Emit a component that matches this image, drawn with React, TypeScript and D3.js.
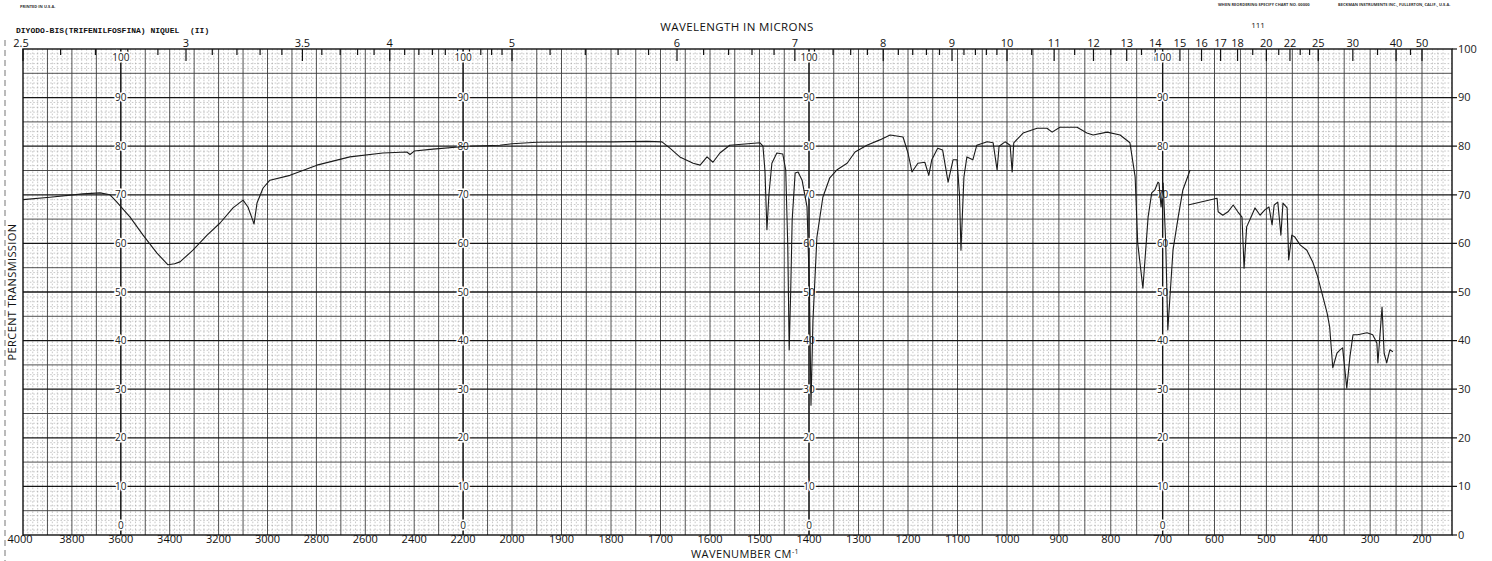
import React from "react";
import * as d3 from "d3";

const W = 1492;
const H = 561;

// pen trace: wavenumber (cm-1) and percent transmission
const mainCm = [4000, 3890, 3755, 3685, 3644, 3616, 3562, 3509, 3452, 3407, 3380, 3358, 3305, 3247, 3194, 3141, 3100, 3080, 3062, 3055, 3043, 3018, 2990, 2908, 2798, 2663, 2528, 2430, 2417, 2400, 2323, 2184, 2050, 2000, 1950, 1863, 1796, 1727, 1697, 1681, 1661, 1634, 1620, 1606, 1594, 1580, 1560, 1499, 1493, 1489, 1485, 1481, 1475, 1465, 1453, 1447, 1443, 1440, 1437, 1434, 1428, 1422, 1414, 1404, 1399, 1396, 1392, 1384, 1372, 1358, 1344, 1323, 1307, 1283, 1257, 1236, 1210, 1200, 1192, 1180, 1166, 1158, 1152, 1140, 1130, 1119, 1109, 1101, 1096, 1093, 1087, 1081, 1069, 1061, 1040, 1028, 1020, 1016, 1004, 994, 990, 987, 969, 942, 923, 913, 898, 865, 846, 834, 807, 782, 763, 753, 748, 738, 728, 721, 715, 709, 707, 703, 699, 694, 690, 680, 670, 661, 647];
const mainT = [69, 69.5, 70.2, 70.4, 70, 68.5, 65.4, 61.7, 58, 55.6, 55.8, 56.2, 58.6, 61.7, 64.2, 67.3, 68.9, 67.5, 65, 64, 68.3, 71.4, 73, 74, 76.1, 77.8, 78.6, 78.8, 78.3, 79, 79.4, 80, 80.2, 80.5, 80.8, 80.9, 80.9, 81, 80.9, 79.6, 77.8, 76.5, 76.1, 77.8, 76.7, 78.6, 80.2, 80.7, 80, 75, 62.8, 70, 76.5, 78.6, 78.4, 75.1, 60, 38.1, 50, 64.8, 74.5, 74.7, 73, 67.5, 50, 26.7, 44.2, 61.3, 69.5, 73.5, 75.1, 76.5, 78.8, 80.2, 81.3, 82.3, 81.9, 78.6, 74.7, 76.5, 76.7, 74, 77.2, 79.6, 79.2, 72.6, 77.2, 77.2, 70, 58.6, 73.7, 77.8, 77.2, 80.2, 80.9, 80.7, 75.1, 80, 80.9, 80.2, 74.7, 80.7, 82.7, 83.7, 83.7, 82.9, 83.9, 83.9, 82.7, 82.3, 82.9, 82.3, 80.7, 73.7, 60, 50.8, 65.4, 70.4, 71, 72.6, 72.4, 67.5, 72.4, 60, 42.2, 58.6, 65.4, 71, 75.1];

// second pen run (far infrared part)
const farCm = [651, 595, 593, 584, 574, 564, 555, 547, 543, 538, 528, 522, 512, 503, 495, 489, 485, 478, 472, 468, 460, 457, 451, 445, 435, 422, 410, 401, 391, 383, 378, 372, 364, 358, 353, 345, 339, 333, 324, 306, 295, 287, 285, 277, 273, 268, 262, 256];
const farT = [67.9, 69.3, 66.5, 65.8, 66.5, 67.9, 66.5, 65.4, 54.9, 63.4, 65.8, 67.3, 65.8, 66.9, 67.5, 63.8, 67.9, 68.5, 61.7, 68.3, 67.3, 56.6, 61.7, 61.3, 59.7, 58.6, 56, 53.1, 49, 45.7, 42.8, 34.4, 37.4, 38.1, 38.5, 30.2, 36.6, 41.2, 41.2, 41.6, 41.2, 39.5, 35.4, 46.9, 37.4, 35.4, 38.1, 37.7];

const wavenumberLabels = [4000, 3800, 3600, 3400, 3200, 3000, 2800, 2600, 2400, 2200, 2000, 1900, 1800, 1700, 1600, 1500, 1400, 1300, 1200, 1100, 1000, 900, 800, 700, 600, 500, 400, 300, 200];
const micronLabels = [2.5, 3, 3.5, 4, 5, 6, 7, 8, 9, 10, 11, 12, 13, 14, 15, 16, 17, 18, 20, 22, 25, 30, 40, 50];
const percentLabels = [0, 10, 20, 30, 40, 50, 60, 70, 80, 90, 100];
const scaleColumns = [3600, 2200, 1400, 700];

const title = "DIYODO-BIS(TRIFENILFOSFINA) NIQUEL";

// chart paper: scale halves at 2000 cm-1
const x = d3.scaleLinear().domain([4000, 2000, 1000, 200, 143]).range([23, 512, 1007, 1422, 1452]);
const y = d3.scaleLinear().domain([0, 100]).range([535, 49]);

const left = x(4000);
const right = x(143);
const top = y(100);
const bottom = y(0);

const line = d3.line<[number, number]>().x(d => x(d[0])).y(d => y(d[1]));

const near = (a: number, list: number[]) => list.some(v => Math.abs(v - a) < 1e-6);

const micronMinor = [
  ...d3.range(2.6, 5, 0.1),
  ...d3.range(5.2, 10, 0.2),
  ...d3.range(10.5, 14, 0.5),
  19, 21, 23, 24, 35, 45,
].map(v => Math.round(v * 10) / 10).filter(v => !near(v, micronLabels));

const vMinor = [...d3.range(3980, 2000, -20), ...d3.range(1990, 143, -10)].filter(v => v % 50 !== 0);
const vMid = [...d3.range(3900, 2000, -100), ...d3.range(2000, 150, -50)];
const hMinor = d3.range(1, 100).filter(v => v % 5 !== 0);
const hMid = d3.range(5, 100, 10);
const hMajor = d3.range(10, 100, 10);

const sans = "'Open Sans', 'DejaVu Sans', sans-serif";

export default function App() {
  return (
    <div style={{position: "absolute", left: 0, top: 0}}>
      <svg width={W} height={H} style={{display: "block", background: "#fff"}}>
        {/* page edge */}
        <line x1={5} x2={5} y1={40} y2={H} stroke="#777" strokeWidth={1} strokeDasharray="6,4" />

        {/* fine grid */}
        <g stroke="#9a9a9a" strokeWidth={0.55} strokeDasharray="1.6,1.8">
          {vMinor.map(v => <line key={"vm" + v} x1={x(v)} x2={x(v)} y1={top} y2={bottom} />)}
          {hMinor.map(v => <line key={"hm" + v} x1={left} x2={right} y1={y(v)} y2={y(v)} />)}
        </g>
        <g stroke="#3c3c3c" strokeWidth={0.9}>
          {vMid.map(v => <line key={"vd" + v} x1={x(v)} x2={x(v)} y1={top} y2={bottom} />)}
          {hMid.map(v => <line key={"hd" + v} x1={left} x2={right} y1={y(v)} y2={y(v)} />)}
        </g>
        <g stroke="#151515" strokeWidth={1.3}>
          {hMajor.map(v => <line key={"hM" + v} x1={left} x2={right + 5} y1={y(v)} y2={y(v)} />)}
          {scaleColumns.map(v => <line key={"c" + v} x1={x(v)} x2={x(v)} y1={top} y2={bottom} />)}
        </g>
        <rect x={left} y={top} width={right - left} height={bottom - top} fill="none" stroke="#111" strokeWidth={1.4} />
        <line x1={right} x2={right + 5} y1={top} y2={top} stroke="#111" strokeWidth={1.2} />
        <line x1={right} x2={right + 5} y1={bottom} y2={bottom} stroke="#111" strokeWidth={1.2} />

        {/* wavelength ticks along the top edge */}
        <g stroke="#111" strokeWidth={1.2}>
          {micronMinor.map(m => <line key={"mt" + m} x1={x(10000 / m)} x2={x(10000 / m)} y1={top} y2={top + 6} />)}
          {micronLabels.map(m => <line key={"ML" + m} x1={x(10000 / m)} x2={x(10000 / m)} y1={top} y2={top + 12} />)}
        </g>

        {/* percent scale printed inside the grid */}
        <g fontFamily={sans} fontSize={10} fill="#222" textAnchor="middle" stroke="#fff" strokeWidth={3} paintOrder="stroke">
          {scaleColumns.map(c => percentLabels.map(p => (
            <text key={c + "-" + p} x={x(c)} y={y(p) + (p === 100 ? 8 : p === 0 ? -10 : 0)} dy="0.35em">{p}</text>
          )))}
        </g>
        <g fontFamily={sans} fontSize={11} fill="#222" textAnchor="start">
          {percentLabels.map(p => <text key={"r" + p} x={right + 6} y={y(p)} dy="0.35em">{p}</text>)}
        </g>

        {/* spectrum */}
        <path d={line(mainCm.map((c, i) => [c, mainT[i]]) as [number, number][]) || ""} fill="none" stroke="#1a1a1a" strokeWidth={1.1} strokeLinejoin="round" />
        <path d={line(farCm.map((c, i) => [c, farT[i]]) as [number, number][]) || ""} fill="none" stroke="#1a1a1a" strokeWidth={1.1} strokeLinejoin="round" />

        {/* axis labels */}
        <g fontFamily={sans} fontSize={11} fill="#111" textAnchor="middle">
          {wavenumberLabels.map(w => <text key={"w" + w} x={x(w) - (w === 4000 ? 3 : 0)} y={bottom + 8}>{w}</text>)}
          {micronLabels.map(m => <text key={"m" + m} x={x(10000 / m) + (m === 2.5 ? -2 : 0)} y={top - 2}>{m}</text>)}
        </g>
        <text x={745} y={558} fontFamily={sans} fontSize={11} textAnchor="middle" fill="#111" letterSpacing={0.4}>
          WAVENUMBER CM<tspan dy={-4} fontSize={7}>-1</tspan>
        </text>
        <text x={737} y={31} fontFamily={sans} fontSize={11.5} textAnchor="middle" fill="#111" letterSpacing={0.4}>WAVELENGTH IN MICRONS</text>
        <text x={1258} y={28} fontFamily={sans} fontSize={8} textAnchor="middle" fill="#111">111</text>
        <text transform={`translate(16,${(top + bottom) / 2}) rotate(-90)`} fontFamily={sans} fontSize={11} textAnchor="middle" fill="#111" letterSpacing={0.4}>PERCENT TRANSMISSION</text>

        {/* sample name typed on the chart */}
        <g fontFamily="'Liberation Mono', monospace" fontWeight="bold" fontSize={8} fill="#111">
          <text x={16} y={33}>{title}</text>
          <text x={190} y={33}>(II)</text>
        </g>

        {/* printer's small print */}
        <g fontFamily={sans} fontWeight="bold" fontSize={4} fill="#333">
          <text x={20} y={8}>PRINTED IN U.S.A.</text>
          <text x={1218} y={6}>WHEN REORDERING SPECIFY CHART NO. 00000</text>
          <text x={1338} y={6}>BECKMAN INSTRUMENTS INC., FULLERTON, CALIF., U.S.A.</text>
        </g>
      </svg>
    </div>
  );
}
